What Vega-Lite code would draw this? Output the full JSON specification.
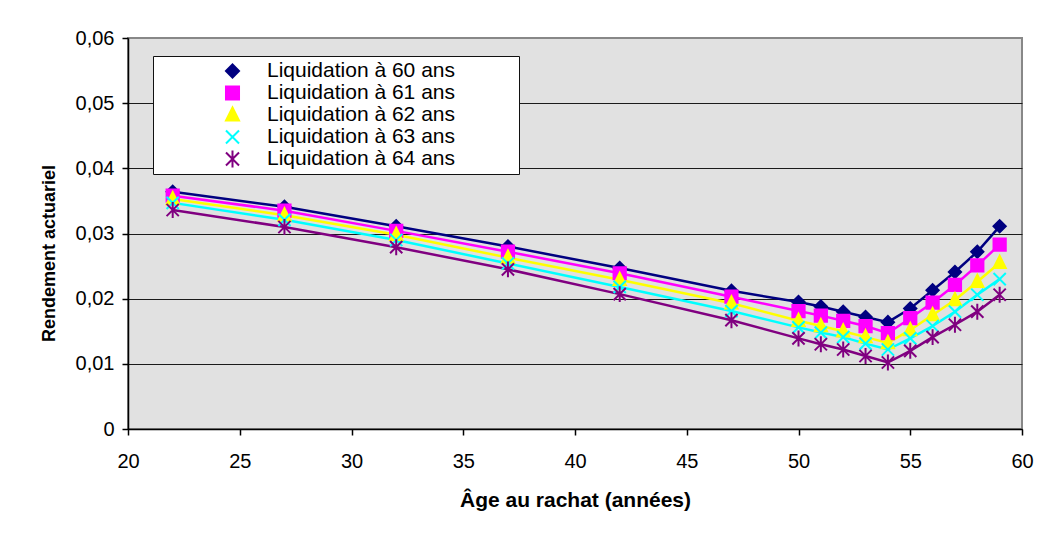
{
  "$schema": "https://vega.github.io/schema/vega-lite/v6.json",
  "width": 894,
  "height": 391,
  "autosize": {"type": "none"},
  "padding": {"left": 128, "top": 38, "right": 29, "bottom": 104},
  "background": "white",
  "config": {
    "font": "Liberation Sans",
    "view": {"fill": "#E1E1E1", "stroke": "#888888", "strokeWidth": 2},
    "axis": {
      "labelFont": "Liberation Sans",
      "titleFont": "Liberation Sans",
      "labelColor": "#000000",
      "titleColor": "#000000",
      "domainColor": "#000000",
      "tickColor": "#000000",
      "domainWidth": 1.5,
      "tickWidth": 1.5,
      "labelFontSize": 20,
      "titleFontWeight": "bold",
      "labelOverlap": false,
      "labelFlush": false
    }
  },
  "data": {
    "values": [
      {"age": 22, "serie": "Liquidation à 60 ans", "rendement": 0.0364},
      {"age": 27, "serie": "Liquidation à 60 ans", "rendement": 0.0341},
      {"age": 32, "serie": "Liquidation à 60 ans", "rendement": 0.0311},
      {"age": 37, "serie": "Liquidation à 60 ans", "rendement": 0.0280},
      {"age": 42, "serie": "Liquidation à 60 ans", "rendement": 0.0247},
      {"age": 47, "serie": "Liquidation à 60 ans", "rendement": 0.0212},
      {"age": 50, "serie": "Liquidation à 60 ans", "rendement": 0.0195},
      {"age": 51, "serie": "Liquidation à 60 ans", "rendement": 0.0188},
      {"age": 52, "serie": "Liquidation à 60 ans", "rendement": 0.0180},
      {"age": 53, "serie": "Liquidation à 60 ans", "rendement": 0.0172},
      {"age": 54, "serie": "Liquidation à 60 ans", "rendement": 0.0164},
      {"age": 55, "serie": "Liquidation à 60 ans", "rendement": 0.0185},
      {"age": 56, "serie": "Liquidation à 60 ans", "rendement": 0.0213},
      {"age": 57, "serie": "Liquidation à 60 ans", "rendement": 0.0241},
      {"age": 58, "serie": "Liquidation à 60 ans", "rendement": 0.0272},
      {"age": 59, "serie": "Liquidation à 60 ans", "rendement": 0.0311},

      {"age": 22, "serie": "Liquidation à 61 ans", "rendement": 0.0358},
      {"age": 27, "serie": "Liquidation à 61 ans", "rendement": 0.0335},
      {"age": 32, "serie": "Liquidation à 61 ans", "rendement": 0.0304},
      {"age": 37, "serie": "Liquidation à 61 ans", "rendement": 0.0272},
      {"age": 42, "serie": "Liquidation à 61 ans", "rendement": 0.0239},
      {"age": 47, "serie": "Liquidation à 61 ans", "rendement": 0.0203},
      {"age": 50, "serie": "Liquidation à 61 ans", "rendement": 0.0181},
      {"age": 51, "serie": "Liquidation à 61 ans", "rendement": 0.0174},
      {"age": 52, "serie": "Liquidation à 61 ans", "rendement": 0.0166},
      {"age": 53, "serie": "Liquidation à 61 ans", "rendement": 0.0158},
      {"age": 54, "serie": "Liquidation à 61 ans", "rendement": 0.0147},
      {"age": 55, "serie": "Liquidation à 61 ans", "rendement": 0.0170},
      {"age": 56, "serie": "Liquidation à 61 ans", "rendement": 0.0194},
      {"age": 57, "serie": "Liquidation à 61 ans", "rendement": 0.0221},
      {"age": 58, "serie": "Liquidation à 61 ans", "rendement": 0.0251},
      {"age": 59, "serie": "Liquidation à 61 ans", "rendement": 0.0283},

      {"age": 22, "serie": "Liquidation à 62 ans", "rendement": 0.0353},
      {"age": 27, "serie": "Liquidation à 62 ans", "rendement": 0.0328},
      {"age": 32, "serie": "Liquidation à 62 ans", "rendement": 0.0298},
      {"age": 37, "serie": "Liquidation à 62 ans", "rendement": 0.0263},
      {"age": 42, "serie": "Liquidation à 62 ans", "rendement": 0.0229},
      {"age": 47, "serie": "Liquidation à 62 ans", "rendement": 0.0193},
      {"age": 50, "serie": "Liquidation à 62 ans", "rendement": 0.0166},
      {"age": 51, "serie": "Liquidation à 62 ans", "rendement": 0.0158},
      {"age": 52, "serie": "Liquidation à 62 ans", "rendement": 0.0150},
      {"age": 53, "serie": "Liquidation à 62 ans", "rendement": 0.0141},
      {"age": 54, "serie": "Liquidation à 62 ans", "rendement": 0.0132},
      {"age": 55, "serie": "Liquidation à 62 ans", "rendement": 0.0152},
      {"age": 56, "serie": "Liquidation à 62 ans", "rendement": 0.0175},
      {"age": 57, "serie": "Liquidation à 62 ans", "rendement": 0.0198},
      {"age": 58, "serie": "Liquidation à 62 ans", "rendement": 0.0226},
      {"age": 59, "serie": "Liquidation à 62 ans", "rendement": 0.0255},

      {"age": 22, "serie": "Liquidation à 63 ans", "rendement": 0.0347},
      {"age": 27, "serie": "Liquidation à 63 ans", "rendement": 0.0321},
      {"age": 32, "serie": "Liquidation à 63 ans", "rendement": 0.0290},
      {"age": 37, "serie": "Liquidation à 63 ans", "rendement": 0.0254},
      {"age": 42, "serie": "Liquidation à 63 ans", "rendement": 0.0218},
      {"age": 47, "serie": "Liquidation à 63 ans", "rendement": 0.0181},
      {"age": 50, "serie": "Liquidation à 63 ans", "rendement": 0.0156},
      {"age": 51, "serie": "Liquidation à 63 ans", "rendement": 0.0148},
      {"age": 52, "serie": "Liquidation à 63 ans", "rendement": 0.0141},
      {"age": 53, "serie": "Liquidation à 63 ans", "rendement": 0.0131},
      {"age": 54, "serie": "Liquidation à 63 ans", "rendement": 0.0122},
      {"age": 55, "serie": "Liquidation à 63 ans", "rendement": 0.0139},
      {"age": 56, "serie": "Liquidation à 63 ans", "rendement": 0.0158},
      {"age": 57, "serie": "Liquidation à 63 ans", "rendement": 0.0180},
      {"age": 58, "serie": "Liquidation à 63 ans", "rendement": 0.0206},
      {"age": 59, "serie": "Liquidation à 63 ans", "rendement": 0.0230},

      {"age": 22, "serie": "Liquidation à 64 ans", "rendement": 0.0336},
      {"age": 27, "serie": "Liquidation à 64 ans", "rendement": 0.0310},
      {"age": 32, "serie": "Liquidation à 64 ans", "rendement": 0.0279},
      {"age": 37, "serie": "Liquidation à 64 ans", "rendement": 0.0245},
      {"age": 42, "serie": "Liquidation à 64 ans", "rendement": 0.0207},
      {"age": 47, "serie": "Liquidation à 64 ans", "rendement": 0.0167},
      {"age": 50, "serie": "Liquidation à 64 ans", "rendement": 0.0139},
      {"age": 51, "serie": "Liquidation à 64 ans", "rendement": 0.0130},
      {"age": 52, "serie": "Liquidation à 64 ans", "rendement": 0.0122},
      {"age": 53, "serie": "Liquidation à 64 ans", "rendement": 0.0112},
      {"age": 54, "serie": "Liquidation à 64 ans", "rendement": 0.0102},
      {"age": 55, "serie": "Liquidation à 64 ans", "rendement": 0.0120},
      {"age": 56, "serie": "Liquidation à 64 ans", "rendement": 0.0141},
      {"age": 57, "serie": "Liquidation à 64 ans", "rendement": 0.0160},
      {"age": 58, "serie": "Liquidation à 64 ans", "rendement": 0.0180},
      {"age": 59, "serie": "Liquidation à 64 ans", "rendement": 0.0206}
    ]
  },
  "encoding": {
    "x": {
      "field": "age",
      "type": "quantitative",
      "scale": {"domain": [20, 60], "nice": false, "zero": false},
      "axis": {
        "values": [20, 25, 30, 35, 40, 45, 50, 55, 60],
        "title": "Âge au rachat (années)",
        "titleFontSize": 21,
        "titleBaseline": "alphabetic",
        "titleY": 77,
        "tickSize": 6,
        "labelPadding": 16,
        "grid": false
      }
    },
    "y": {
      "field": "rendement",
      "type": "quantitative",
      "scale": {"domain": [0, 0.06], "nice": false},
      "axis": {
        "values": [0, 0.01, 0.02, 0.03, 0.04, 0.05, 0.06],
        "labelExpr": "datum.value == 0 ? '0' : replace(format(datum.value, '.2f'), '.', ',')",
        "title": "Rendement actuariel",
        "titleFontSize": 18,
        "titleBaseline": "alphabetic",
        "titleX": -74,
        "titleY": 215,
        "tickSize": 6,
        "labelPadding": 8,
        "grid": true,
        "gridColor": {"condition": {"test": "datum.value >= 0.0599", "value": "#888888"}, "value": "#1a1a1a"},
        "gridWidth": 1
      }
    },
    "color": {
      "field": "serie",
      "type": "nominal",
      "scale": {
        "domain": ["Liquidation à 60 ans", "Liquidation à 61 ans", "Liquidation à 62 ans", "Liquidation à 63 ans", "Liquidation à 64 ans"],
        "range": ["#000080", "#FF00FF", "#FFFF00", "#00FFFF", "#800080"]
      },
      "legend": {
        "orient": "none",
        "legendX": 25,
        "legendY": 18,
        "title": null,
        "fillColor": "#FFFFFF",
        "strokeColor": "#111111",
        "padding": 4,
        "rowPadding": 0,
        "clipHeight": 22,
        "symbolSize": 170,
        "symbolStrokeWidth": 2,
        "symbolOffset": 65,
        "labelOffset": 24,
        "labelFontSize": 21,
        "labelFont": "Liberation Sans",
        "labelColor": "#000000",
        "labelLimit": 600,
        "labelExpr": "datum.label + '\u2800\u2800\u2800\u2800'"
      }
    }
  },
  "layer": [
    {"mark": {"type": "line", "strokeWidth": 2.5}},
    {
      "mark": {"type": "point", "filled": false, "strokeWidth": 2, "size": 150, "opacity": 1},
      "encoding": {
        "shape": {
          "field": "serie",
          "type": "nominal",
          "scale": {
            "domain": ["Liquidation à 60 ans", "Liquidation à 61 ans", "Liquidation à 62 ans", "Liquidation à 63 ans", "Liquidation à 64 ans"],
            "range": ["diamond", "square", "M0,-1.15L1,0.85H-1Z", "M-1,-1L1,1M-1,1L1,-1", "M-1,-1L1,1M-1,1L1,-1M0,-1.3V1.3"]
          },
          "legend": null
        },
        "fill": {
          "field": "serie",
          "type": "nominal",
          "scale": {
            "domain": ["Liquidation à 60 ans", "Liquidation à 61 ans", "Liquidation à 62 ans", "Liquidation à 63 ans", "Liquidation à 64 ans"],
            "range": ["#000080", "#FF00FF", "#FFFF00", "transparent", "transparent"]
          },
          "legend": null
        }
      }
    }
  ]
}
